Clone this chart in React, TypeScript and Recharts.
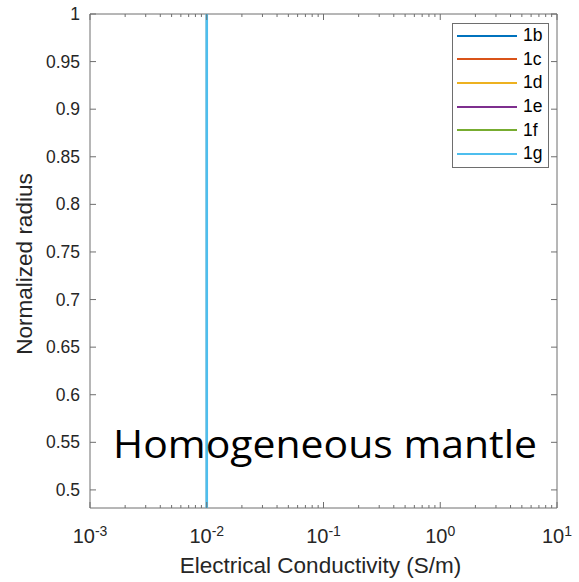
import { LineChart, Line, XAxis, YAxis, Legend, ReferenceArea } from 'recharts';

// Conductivity profiles (S/m) vs normalized radius, one array per model
const radius = [0.481, 1];
const cond1b = [0.01, 0.01];
const cond1c = [0.01, 0.01];
const cond1d = [0.01, 0.01];
const cond1e = [0.01, 0.01];
const cond1f = [0.01, 0.01];
const cond1g = [0.01, 0.01];

const seriesNames = ['1b', '1c', '1d', '1e', '1f', '1g'];
const seriesCond = [cond1b, cond1c, cond1d, cond1e, cond1f, cond1g];
const seriesColors = ['#0072BD', '#D95319', '#EDB120', '#7E2F8E', '#77AC30', '#4DBEEE'];

const xMajorTicks = [0.001, 0.01, 0.1, 1, 10];
const xMinorSteps = [2, 3, 4, 5, 6, 7, 8, 9];
const yTicks = [0.5, 0.55, 0.6, 0.65, 0.7, 0.75, 0.8, 0.85, 0.9, 0.95, 1];
const yTickLabels = ['0.5', '0.55', '0.6', '0.65', '0.7', '0.75', '0.8', '0.85', '0.9', '0.95', '1'];

const W = 579;
const H = 582;
const M = { top: 14, right: 22, left: 0, bottom: 0 };
const Y_W = 90;
const X_H = 74;
const PLOT_W = W - M.right - Y_W;
const PLOT_H = H - M.top - X_H;

const FONT = '"Liberation Sans", Arial, sans-serif';
const TXT = '#262626';
const AXIS = '#6e6e6e';

const xMinorTicks = xMajorTicks.slice(0, -1).flatMap((d) => xMinorSteps.map((s) => +(d * s).toPrecision(3)));
const xTicks = [...xMajorTicks, ...xMinorTicks];

const seriesData = seriesCond.map((c) => radius.map((r, i) => ({ x: c[i], y: r })));

function XTick(props: any) {
  const { x, y, payload } = props;
  const major = xMajorTicks.includes(payload.value);
  const len = major ? 6 : 3;
  const exp = Math.round(Math.log10(payload.value));
  return (
    <g>
      <line x1={x} x2={x} y1={y} y2={y - len} stroke={AXIS} />
      <line x1={x} x2={x} y1={y - PLOT_H} y2={y - PLOT_H + len} stroke={AXIS} />
      {major && (
        <text x={x} y={y + 35} textAnchor="middle" fill={TXT} fontFamily={FONT} fontSize={20}>
          10
          <tspan dy={-7} fontSize={14}>{String(exp)}</tspan>
        </text>
      )}
    </g>
  );
}

function YTick(props: any) {
  const { x, y, payload, index } = props;
  return (
    <g>
      <line x1={x} x2={x + 6} y1={y} y2={y} stroke={AXIS} />
      <line x1={x + PLOT_W} x2={x + PLOT_W - 6} y1={y} y2={y} stroke={AXIS} />
      <text x={x - 10} y={y} dy="0.35em" textAnchor="end" fill={TXT} fontFamily={FONT} fontSize={17.5}>
        {yTickLabels[index] ?? String(payload.value)}
      </text>
    </g>
  );
}

function renderLegend(props: any) {
  const items = props.payload || [];
  return (
    <div
      style={{
        width: 95,
        height: 143,
        border: `1px solid ${AXIS}`,
        background: '#fff',
        fontFamily: FONT,
        fontSize: 17.5,
        color: '#000',
      }}
    >
      {items.map((it: any) => (
        <div key={it.value} style={{ height: 23.6, display: 'flex', alignItems: 'center' }}>
          <svg width={70} height={10} style={{ display: 'block' }}>
            <line x1={4} x2={64} y1={5} y2={5} stroke={it.color} strokeWidth={2} />
          </svg>
          <span>{it.value}</span>
        </div>
      ))}
    </div>
  );
}

export default function App() {
  return (
    <div style={{ position: 'absolute', left: 0, top: 0, width: W, height: H, background: '#fff' }}>
      <LineChart width={W} height={H} margin={M}>
        <XAxis
          type="number"
          dataKey="x"
          scale="log"
          domain={[0.001, 10]}
          allowDataOverflow
          ticks={xTicks}
          interval={0}
          height={X_H}
          tickLine={false}
          axisLine={false}
          tickSize={0}
          tickMargin={0}
          tick={(p: any) => <XTick {...p} />}
          label={{
            content: (p: any) => {
              const vb = p.viewBox;
              return (
                <text x={vb.x + vb.width / 2 - 3} y={vb.y + 65} textAnchor="middle" fill={TXT} fontFamily={FONT} fontSize={22.5}>
                  Electrical Conductivity (S/m)
                </text>
              );
            },
          }}
        />
        <YAxis
          type="number"
          dataKey="y"
          domain={[0.481, 1]}
          allowDataOverflow
          ticks={yTicks}
          interval={0}
          width={Y_W}
          tickLine={false}
          axisLine={false}
          tickSize={0}
          tickMargin={0}
          tick={(p: any) => <YTick {...p} />}
          label={{
            content: (p: any) => {
              const vb = p.viewBox;
              const cx = vb.x + 32;
              const cy = vb.y + vb.height / 2 + 3;
              return (
                <text x={cx} y={cy} textAnchor="middle" transform={`rotate(-90, ${cx}, ${cy})`} fill={TXT} fontFamily={FONT} fontSize={22.5}>
                  Normalized radius
                </text>
              );
            },
          }}
        />
        <ReferenceArea x1={0.001} x2={10} y1={0.481} y2={1} fill="none" stroke={AXIS} strokeWidth={1} ifOverflow="visible" />
        {seriesNames.map((name, i) => (
          <Line
            key={name}
            name={name}
            data={seriesData[i]}
            dataKey="y"
            type="linear"
            stroke={seriesColors[i]}
            strokeWidth={i === seriesNames.length - 1 ? 2.6 : 1.6}
            dot={false}
            activeDot={false}
            isAnimationActive={false}
          />
        ))}
        <Legend
          layout="vertical"
          align="center"
          verticalAlign="middle"
          content={renderLegend}
          wrapperStyle={{ position: 'absolute', left: 452, top: 23, width: 97, height: 145 }}
        />
      </LineChart>
      <svg width={W} height={H} style={{ position: 'absolute', left: 0, top: 0, pointerEvents: 'none' }}>
        <text x={113} y={458} textLength={424} lengthAdjust="spacingAndGlyphs" fontFamily='"Open Sans", sans-serif' fontSize={39} fill="#000">
          Homogeneous mantle
        </text>
      </svg>
    </div>
  );
}
